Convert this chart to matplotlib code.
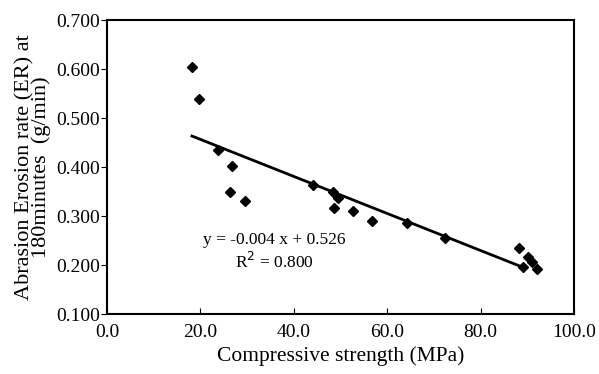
import numpy as np
import matplotlib
matplotlib.use("Agg")
import matplotlib.pyplot as plt
import matplotlib.ticker as ticker

# Datos
strength = [18.2, 19.7, 23.8, 26.8, 26.3, 29.6, 44.1, 48.4, 49.5, 48.6,
            52.7, 56.7, 64.2, 72.4, 88.2, 89.1, 90.2, 91.0, 92.1]
erosion = [0.604, 0.539, 0.435, 0.402, 0.349, 0.331, 0.363, 0.349, 0.337, 0.316,
           0.310, 0.290, 0.286, 0.255, 0.235, 0.196, 0.216, 0.206, 0.192]
# Recta de tendencia (como aparece dibujada)
fit_x = [18.2, 89.0]
slope = -0.00378
intercept = 0.532

plt.rcParams['font.family'] = ['Liberation Serif', 'DejaVu Serif']

fig = plt.figure(figsize=(5.99, 3.74), dpi=100)
ax = fig.add_axes([0.1786, 0.1604, 0.7796, 0.7861])

ax.plot(strength, erosion, linestyle='none', marker='D', color='black', markersize=5.3)
fx = np.array(fit_x)
ax.plot(fx, slope * fx + intercept, color='black', linewidth=2)

ax.text(35.8, 0.251, "y = -0.004 x + 0.526", ha='center', va='center', fontsize=12.5)
ax.text(35.8, 0.206, "R$^2$ = 0.800", ha='center', va='center', fontsize=12.5)

ax.set_xlim(0, 100)
ax.set_ylim(0.1, 0.7)
ax.xaxis.set_major_locator(ticker.MultipleLocator(20))
ax.yaxis.set_major_locator(ticker.MultipleLocator(0.1))
ax.xaxis.set_major_formatter(ticker.FormatStrFormatter('%.1f'))
ax.yaxis.set_major_formatter(ticker.FormatStrFormatter('%.3f'))
ax.tick_params(axis='x', direction='in', length=4, labelsize=14, pad=7)
ax.tick_params(axis='y', direction='out', length=4, labelsize=14, pad=1)
for s in ax.spines.values():
    s.set_linewidth(1.5)

ax.set_xlabel("Compressive strength (MPa)", fontsize=15.5, labelpad=4)
ax.set_ylabel("Abrasion Erosion rate (ER) at\n180minutes  (g/min)", fontsize=16,
              linespacing=0.75, labelpad=4)

fig.savefig("out.png", dpi=100)
